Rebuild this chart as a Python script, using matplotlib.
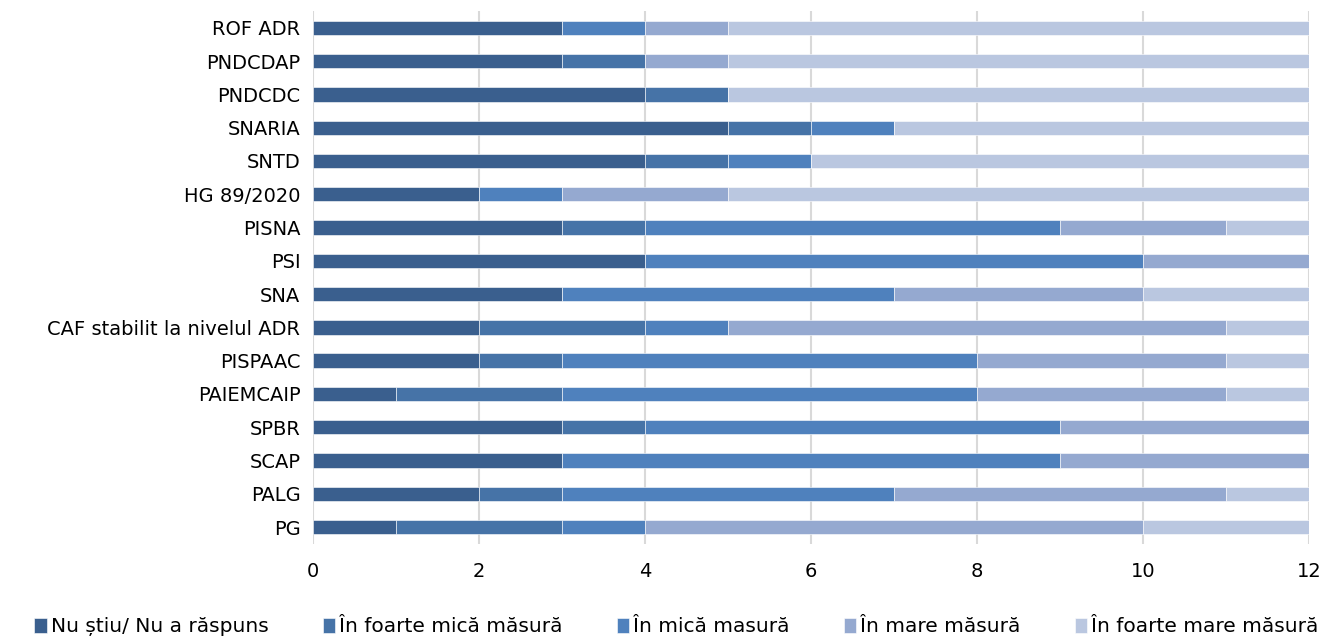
import numpy as np
import matplotlib
matplotlib.use("Agg")
import matplotlib.pyplot as plt

# categories, top to bottom as in the chart
categories = ["ROF ADR", "PNDCDAP", "PNDCDC", "SNARIA", "SNTD", "HG 89/2020",
              "PISNA", "PSI", "SNA", "CAF stabilit la nivelul ADR", "PISPAAC",
              "PAIEMCAIP", "SPBR", "SCAP", "PALG", "PG"]

nu_stiu       = [3, 3, 4, 5, 4, 2, 3, 4, 3, 2, 2, 1, 3, 3, 2, 1]
foarte_mica   = [0, 1, 1, 1, 1, 0, 1, 0, 0, 2, 1, 2, 1, 0, 1, 2]
mica          = [1, 0, 0, 1, 1, 1, 5, 6, 4, 1, 5, 5, 5, 6, 4, 1]
mare          = [1, 1, 0, 0, 0, 2, 2, 2, 3, 6, 3, 3, 3, 3, 4, 6]
foarte_mare   = [7, 7, 7, 5, 6, 7, 1, 0, 2, 1, 1, 1, 0, 0, 1, 2]

series_names = ["Nu știu/ Nu a răspuns", "În foarte mică măsură", "În mică masură",
                "În mare măsură", "În foarte mare măsură"]
colors = ["#3A5F8E", "#4673A7", "#4F81BD", "#95A9D0", "#BAC7E0"]

fig = plt.figure(figsize=(13.26, 6.43), dpi=100)
ax = fig.add_axes([0.236, 0.1545, 0.751, 0.828])

y = np.arange(len(categories))
left = np.zeros(len(categories))
for name, vals, col in zip(series_names,
                           [nu_stiu, foarte_mica, mica, mare, foarte_mare], colors):
    vals = np.array(vals, dtype=float)
    ax.barh(y, vals, left=left, height=0.43, color=col, label=name,
            edgecolor="white", linewidth=0.4, zorder=3)
    left += vals

ax.set_xlim(0, 12)
ax.set_ylim(len(categories) - 0.5, -0.5)
ax.set_yticks(y)
ax.set_yticklabels(categories, fontsize=14)
ax.set_xticks(np.arange(0, 13, 2))
ax.tick_params(axis="x", labelsize=14, length=0, pad=13)
ax.tick_params(axis="y", length=0, pad=9)
ax.grid(axis="x", color="#D9D9D9", linewidth=1.5, zorder=0)
for s in ax.spines.values():
    s.set_visible(False)

fig.legend(loc="lower center", ncol=5, frameon=False, fontsize=14.5,
           handlelength=0.6, handleheight=0.8, handletextpad=0.2,
           columnspacing=2.7, bbox_to_anchor=(0.51, -0.018))

fig.savefig("out.png", dpi=100)
